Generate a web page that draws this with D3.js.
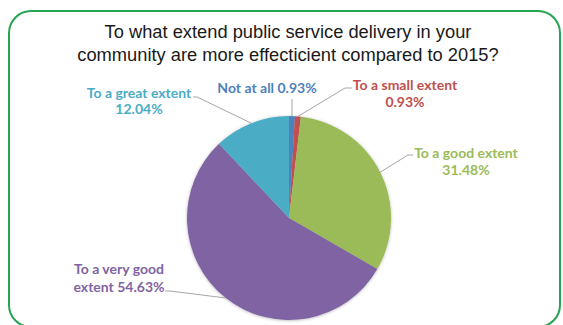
<!DOCTYPE html>
<html>
<head>
<meta charset="utf-8">
<script src="https://cdn.jsdelivr.net/npm/d3@7"></script>
<style>
  html, body { margin: 0; padding: 0; background: #fff; }
  svg { display: block; }
</style>
</head>
<body>
<svg id="chart" width="563" height="325"></svg>
<script>
// Survey responses, in the order the slices run clockwise from 12 o'clock
const categories = ["Not at all", "To a small extent", "To a good extent", "To a very good extent", "To a great extent"];
const shares = [0.93, 0.93, 31.48, 54.63, 12.04];
const sliceColors = ["#4f81bd", "#c0504d", "#9bbb59", "#8064a2", "#4bacc6"];
const titleLines = [
  "To what extend public service delivery in your",
  "community are more effecticient compared to 2015?"
];

// How each data label is broken into lines (the value is appended from `shares`)
const labelLines = [
  d => [`Not at all ${d}%`],
  d => ["To a small extent", `${d}%`],
  d => ["To a good extent", `${d}%`],
  d => ["To a very good", `extent ${d}%`],
  d => ["To a great extent", `${d}%`]
];

// Label placement: text centre x, first baseline, line step, and where the leader leaves the text
const labelLayout = [
  { x: 267, y: 93,  step: 17, lead: [[292, 99]] },
  { x: 405, y: 90,  step: 17, lead: [[352, 88], [345, 88]] },
  { x: 466, y: 158, step: 17, lead: [[413, 155], [408, 155]] },
  { x: 119, y: 274, step: 18, lead: [[165, 291], [170, 291]] },
  { x: 139, y: 98,  step: 16, lead: [[193, 97], [197, 97]] }
];

const svg = d3.select("#chart");

// Rounded green frame
svg.append("rect")
  .attr("x", 9).attr("y", 11)
  .attr("width", 551).attr("height", 316)
  .attr("rx", 22).attr("ry", 22)
  .attr("fill", "#fff")
  .attr("stroke", "#27a451")
  .attr("stroke-width", 2);

// Title
svg.append("text")
  .attr("text-anchor", "middle")
  .attr("font-family", "'Liberation Sans', Arial, sans-serif")
  .attr("font-size", 18.3)
  .attr("fill", "#1a1a1a")
  .selectAll("tspan")
  .data(titleLines)
  .join("tspan")
  .attr("x", 288)
  .attr("y", (d, i) => 38 + i * 23)
  .text(d => d);

// Soft shadow under the pie
const defs = svg.append("defs");
const f = defs.append("filter").attr("id", "pieShadow")
  .attr("x", "-10%").attr("y", "-10%").attr("width", "120%").attr("height", "120%");
f.append("feDropShadow")
  .attr("dx", 0).attr("dy", 0.5)
  .attr("stdDeviation", 1.6)
  .attr("flood-color", "#000")
  .attr("flood-opacity", 0.3);

const cx = 289, cy = 218, r = 102;
const pie = d3.pie().sort(null).value(d => d)(shares);
const arc = d3.arc().innerRadius(0).outerRadius(r);

const g = svg.append("g").attr("transform", `translate(${cx},${cy})`);
g.append("g").attr("filter", "url(#pieShadow)")
  .selectAll("path")
  .data(pie)
  .join("path")
  .attr("d", arc)
  .attr("fill", (d, i) => sliceColors[i]);

// Leader lines: from the label to the slice rim at its mid-angle
const edgePoint = d => {
  const a = (d.startAngle + d.endAngle) / 2;
  return [cx + r * Math.sin(a), cy - r * Math.cos(a)];
};
const line = d3.line();
svg.append("g")
  .selectAll("path")
  .data(pie)
  .join("path")
  .attr("d", (d, i) => line([...labelLayout[i].lead, edgePoint(d)]))
  .attr("fill", "none")
  .attr("stroke", "#a6a6a6")
  .attr("stroke-width", 1);

// Data labels
const labels = svg.append("g")
  .attr("font-family", "Lato, 'Open Sans', sans-serif")
  .attr("font-weight", "bold")
  .attr("font-size", 14)
  .attr("text-anchor", "middle");

categories.forEach((c, i) => {
  const L = labelLayout[i];
  labels.append("text")
    .attr("fill", sliceColors[i])
    .selectAll("tspan")
    .data(labelLines[i](shares[i].toFixed(2)))
    .join("tspan")
    .attr("x", L.x)
    .attr("y", (d, k) => L.y + k * L.step)
    .text(d => d);
});
</script>
</body>
</html>
